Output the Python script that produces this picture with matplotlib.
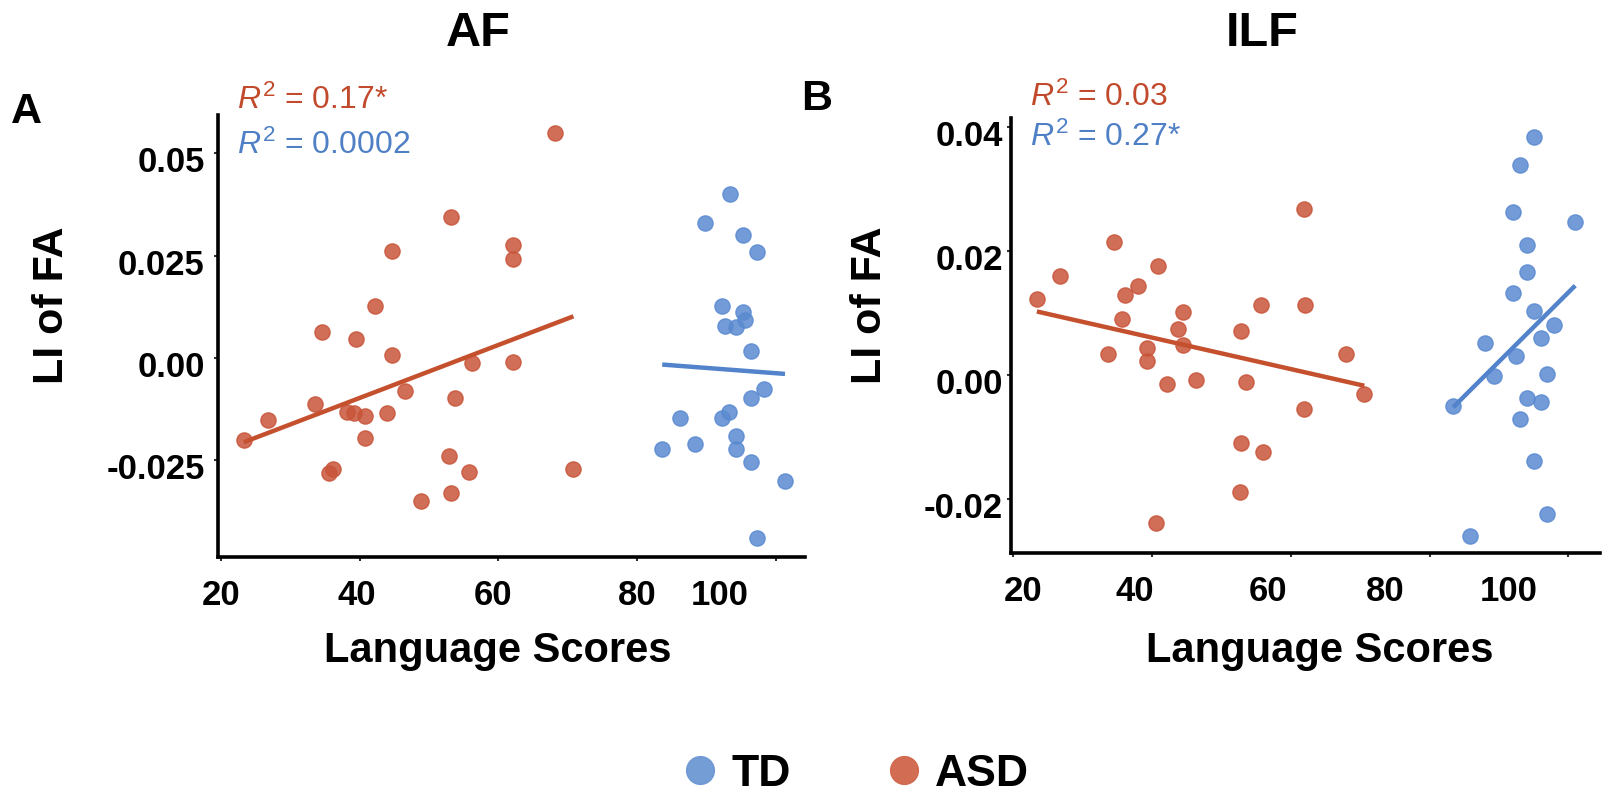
import numpy as np
import matplotlib
matplotlib.use("Agg")
import matplotlib.pyplot as plt
from matplotlib.lines import Line2D
from matplotlib.transforms import ScaledTranslation

plt.rcParams['font.family'] = ['Liberation Sans', 'DejaVu Sans']
plt.rcParams['mathtext.fontset'] = 'custom'
plt.rcParams['mathtext.rm'] = 'Liberation Sans'
plt.rcParams['mathtext.it'] = 'Liberation Sans:italic'

# data
af_asd_x = [23.3, 26.8, 33.6, 34.6, 35.6, 36.1, 38.1, 39.2, 39.4, 40.8, 40.7, 42.2, 43.9, 44.6,
            44.6, 46.5, 48.9, 52.8, 53.1, 53.1, 53.7, 55.8, 56.2, 62.1, 62.1, 62.1, 68.2, 70.8]
af_asd_y = [-0.0201, -0.0151, -0.0114, 0.0064, -0.0281, -0.0271, -0.0133, -0.0134, 0.0045, -0.0143,
            -0.0196, 0.0126, -0.0134, 0.0261, 0.0006, -0.0082, -0.0351, -0.0239, -0.0330, 0.0345,
            -0.0099, -0.0280, -0.0012, 0.0276, 0.0243, -0.0011, 0.0549, -0.0271]
af_td_x = [83.6, 86.2, 88.3, 89.7, 92.2, 92.2, 92.7, 93.2, 93.3, 94.2, 94.3, 94.3, 95.3, 95.3,
           95.6, 96.4, 96.4, 96.4, 97.3, 97.3, 98.3, 101.3]
af_td_y = [-0.0224, -0.0147, -0.0211, 0.0331, 0.0126, -0.0146, 0.0077, -0.0132, 0.0402, 0.0075,
           -0.0192, -0.0224, 0.0301, 0.0112, 0.0093, 0.0017, -0.0097, -0.0255, 0.0260, -0.0441,
           -0.0075, -0.0300]

ilf_asd_x = [23.4, 26.8, 33.6, 34.5, 35.6, 36.1, 38.0, 39.3, 39.3, 40.6, 40.9, 42.2, 43.8, 44.5,
             44.5, 46.4, 52.7, 52.8, 52.8, 53.5, 55.7, 56.0, 61.9, 62.1, 61.9, 67.9, 70.6]
ilf_asd_y = [0.0123, 0.0160, 0.0033, 0.0214, 0.0090, 0.0129, 0.0143, 0.0043, 0.0022, -0.0239,
             0.0176, -0.0015, 0.0074, 0.0102, 0.0048, -0.0008, -0.0188, -0.0109, 0.0071, -0.0011,
             0.0113, -0.0125, 0.0267, 0.0112, -0.0055, 0.0034, -0.0031]
ilf_td_x = [83.4, 85.9, 88.0, 89.3, 92.0, 92.0, 92.4, 93.0, 93.0, 94.0, 94.0, 94.0, 95.0, 95.0,
            95.0, 96.0, 96.1, 97.0, 97.0, 98.0, 101.0]
ilf_td_y = [-0.0050, -0.0259, 0.0052, -0.0001, 0.0262, 0.0132, 0.0030, -0.0071, 0.0338, 0.0210,
            0.0166, -0.0037, 0.0383, 0.0103, -0.0138, 0.0059, -0.0043, 0.0001, -0.0224, 0.0080,
            0.0247]

x_ticks = [20, 40, 60, 80, 100]
af_yticks = [-0.025, 0.0, 0.025, 0.05]
af_yticklabels = ['-0.025', '0.00', '0.025', '0.05']
ilf_yticks = [-0.02, 0.0, 0.02, 0.04]
ilf_yticklabels = ['-0.02', '0.00', '0.02', '0.04']
af_r2 = ['0.17*', '0.0002']
ilf_r2 = ['0.03', '0.27*']

RED, BLUE = '#C8553A', '#5A8AD0'
RED_LINE, BLUE_LINE = '#C4502E', '#5283CB'
RED_TXT, BLUE_TXT = '#C24A2C', '#4F80C6'

W, H = 1612, 805
fig = plt.figure(figsize=(W / 100, H / 100), dpi=100)


def px(x, y):
    return x / W, 1 - y / H


def panel(rect, xlim, ylim, asd, td, yticks, yticklabels, xoffs, ypad):
    ax = fig.add_axes(rect)
    for (xs, ys), c, lc in [(asd, RED, RED_LINE), (td, BLUE, BLUE_LINE)]:
        xs, ys = np.array(xs), np.array(ys)
        ax.scatter(xs, ys, s=120, color=c, alpha=0.85, edgecolors=c, linewidths=1, zorder=3)
        k, b = np.polyfit(xs, ys, 1)
        xx = np.array([xs.min(), xs.max()])
        ax.plot(xx, k * xx + b, color=lc, lw=3.2, zorder=4, solid_capstyle='butt')
    ax.set_xlim(*xlim)
    ax.set_ylim(*ylim)
    for s in ['top', 'right']:
        ax.spines[s].set_visible(False)
    for s in ['left', 'bottom']:
        ax.spines[s].set_linewidth(2.6)
    ax.set_xticks(x_ticks)
    ax.set_xticklabels([str(t) for t in x_ticks])
    ax.set_yticks(yticks)
    ax.set_yticklabels(yticklabels)
    ax.tick_params(axis='both', length=3, width=1.5, color='#333333', labelsize=25)
    ax.tick_params(axis='x', pad=13)
    ax.tick_params(axis='y', pad=ypad)
    for lab in ax.get_xticklabels() + ax.get_yticklabels():
        lab.set_fontweight('bold')
    # the x labels sit a little off their ticks in the source figure
    for lab, dx in zip(ax.get_xticklabels(), xoffs):
        lab.set_transform(lab.get_transform() + ScaledTranslation(dx / 100, 0, fig.dpi_scale_trans))
    for lab in ax.get_yticklabels():
        lab.set_transform(lab.get_transform() + ScaledTranslation(0, -6 / 100, fig.dpi_scale_trans))
    return ax


ax1 = panel([218.5 / W, 1 - 557 / H, (805 - 218.5) / W, (557 - 115) / H],
            (19.64, 104.18), (-0.0487, 0.0594),
            (af_asd_x, af_asd_y), (af_td_x, af_td_y), af_yticks, af_yticklabels,
            [0, -3, -5, 0, -56], 7)
ax2 = panel([1011 / W, 1 - 553 / H, (1600 - 1011) / W, (553 - 118) / H],
            (19.67, 104.57), (-0.0287, 0.0414),
            (ilf_asd_x, ilf_asd_y), (ilf_td_x, ilf_td_y), ilf_yticks, ilf_yticklabels,
            [10, -17, -23, -44, -60], 3)

# titles, panel letters, axis labels
fig.text(*px(478.6, 33), 'AF', fontsize=35, fontweight='bold', ha='center', va='center')
fig.text(*px(1261.7, 33), 'ILF', fontsize=35, fontweight='bold', ha='center', va='center')
fig.text(*px(26.8, 112), 'A', fontsize=31, fontweight='bold', ha='center', va='center')
fig.text(*px(816.7, 99), 'B', fontsize=31, fontweight='bold', ha='center', va='center')
for xc in [51.7, 870]:
    fig.text(*px(xc, 305), 'LI of FA', fontsize=31, fontweight='bold', rotation=90,
             ha='center', va='center')
for xc in [498, 1320]:
    fig.text(*px(xc, 651), 'Language Scores', fontsize=30, fontweight='bold',
             ha='center', va='center')

# R^2 annotations
fig.text(*px(237.5, 100), r'$R^2$ = ' + af_r2[0], fontsize=23, color=RED_TXT, va='center')
fig.text(*px(237.5, 145), r'$R^2$ = ' + af_r2[1], fontsize=23, color=BLUE_TXT, va='center')
fig.text(*px(1030, 97), r'$R^2$ = ' + ilf_r2[0], fontsize=23, color=RED_TXT, va='center')
fig.text(*px(1030, 137), r'$R^2$ = ' + ilf_r2[1], fontsize=23, color=BLUE_TXT, va='center')

# legend
handles = [Line2D([], [], ls='', marker='o', markersize=20, color='#6C97D3', alpha=0.95),
           Line2D([], [], ls='', marker='o', markersize=20, color='#D0654B', alpha=0.95)]
leg = fig.legend(handles, ['TD', 'ASD'], ncol=2, loc='center', bbox_to_anchor=px(857, 774),
                 frameon=False, handlelength=0.7, handletextpad=0.35, columnspacing=2.2,
                 prop={'size': 32, 'weight': 'bold'})

fig.savefig('out.png', dpi=100)
